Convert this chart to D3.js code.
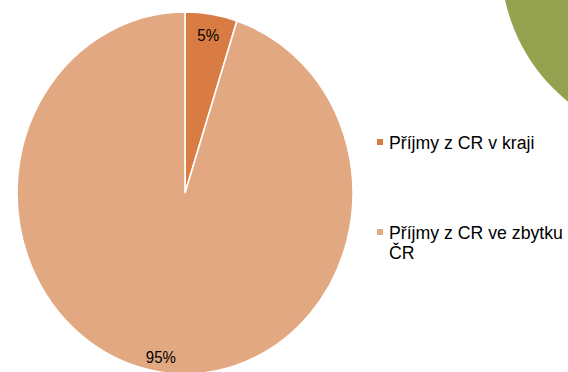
<!DOCTYPE html>
<html>
<head>
<meta charset="utf-8">
<script src="https://cdn.jsdelivr.net/npm/d3@7"></script>
<style>
  html, body { margin: 0; padding: 0; background: #fff; }
  svg { display: block; }
  text { font-family: "Liberation Sans", Arial, sans-serif; fill: #000; }
</style>
</head>
<body>
<script>
// Share of tourism revenue: region vs. rest of the country
const categories = ["Příjmy z CR v kraji", "Příjmy z CR ve zbytku ČR"];
const values = [5, 95];
const valueLabels = ["5%", "95%"];
const legendLines = [["Příjmy z CR v kraji"], ["Příjmy z CR ve zbytku", "ČR"]];
const colors = ["#D97C43", "#E2A882"];

const W = 568, H = 372;
const sy = 1.077;             // slight vertical stretch of the whole slide
const cx = 185, cy = 193, r = 168;
const labelRadius = [0.88, 0.92]; // radial position of each value label, as a share of r

const svg = d3.select("body").append("svg")
  .attr("width", W).attr("height", H);

// decorative circle of the slide theme (top right corner)
svg.append("circle")
  .attr("cx", 680).attr("cy", -38)
  .attr("r", 179)
  .attr("fill", "#94A14E");

const color = d3.scaleOrdinal().domain(categories).range(colors);

const pie = d3.pie().sort(null).value(d => d.value);
const arcs = pie(categories.map((c, i) => ({ cat: c, value: values[i], label: valueLabels[i] })));

const arc = d3.arc().innerRadius(0).outerRadius(r);

const g = svg.append("g")
  .attr("transform", `translate(${cx},${cy}) scale(1,${sy})`);

g.selectAll("path.slice")
  .data(arcs)
  .join("path")
  .attr("class", "slice")
  .attr("d", arc)
  .attr("fill", d => color(d.data.cat))
  .attr("stroke", "#fff")
  .attr("stroke-width", 1.6)
  .attr("vector-effect", "non-scaling-stroke");

g.selectAll("text.val")
  .data(arcs)
  .join("text")
  .attr("class", "val")
  .attr("transform", (d, i) => {
    const lr = r * labelRadius[i];
    const [x, y] = d3.arc().innerRadius(lr).outerRadius(lr).centroid(d);
    return `translate(${x},${y})`;
  })
  .attr("text-anchor", "middle")
  .attr("dy", "0.35em")
  .attr("font-size", 15)
  .text(d => d.data.label);

// legend
const legendX = 377;
const legendBase = [149, 239];
const lineGap = 20;

const leg = svg.append("g");
categories.forEach((c, i) => {
  leg.append("rect")
    .attr("x", legendX).attr("y", legendBase[i] - 10)
    .attr("width", 6).attr("height", 6)
    .attr("fill", color(c));
  legendLines[i].forEach((line, j) => {
    leg.append("text")
      .attr("transform", `translate(${legendX + 12},${legendBase[i] + j * lineGap}) scale(1,${sy})`)
      .attr("font-size", 17.7)
      .text(line);
  });
});
</script>
</body>
</html>
